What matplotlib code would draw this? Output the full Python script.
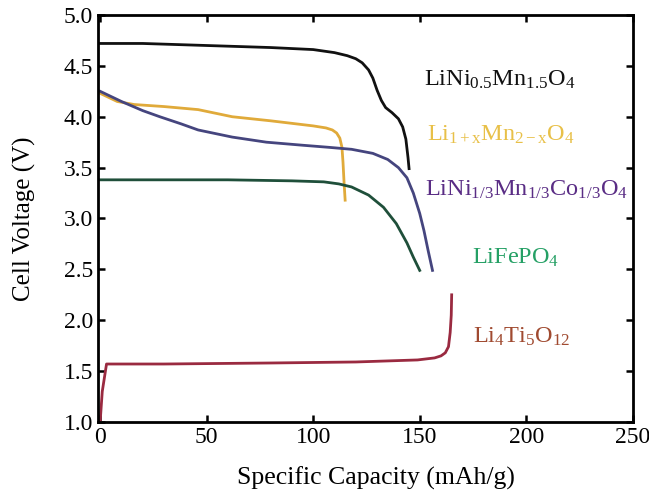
import matplotlib
matplotlib.use("Agg")
import matplotlib.pyplot as plt
import numpy as np

plt.rcParams['font.family'] = ['Liberation Serif', 'DejaVu Serif']
plt.rcParams['mathtext.fontset'] = 'custom'
plt.rcParams['mathtext.rm'] = 'Liberation Serif'
plt.rcParams['mathtext.it'] = 'Liberation Serif:italic'

# LiNi0.5Mn1.5O4
lnmo_cap = [0, 20, 50, 80, 100, 110, 116, 120, 123, 126, 128, 130, 132, 134, 137, 140, 142, 143.5, 144.5, 145]
lnmo_v = [4.72, 4.72, 4.70, 4.68, 4.66, 4.63, 4.60, 4.57, 4.53, 4.46, 4.38, 4.26, 4.16, 4.09, 4.04, 3.98, 3.90, 3.78, 3.60, 3.49]

# Li1+xMn2-xO4
lmo_cap = [0, 8, 16, 30, 46, 62, 80, 100, 106, 109, 111, 112.5, 113.5, 114, 114.5, 115]
lmo_v = [4.23, 4.15, 4.12, 4.10, 4.07, 4.00, 3.96, 3.91, 3.89, 3.87, 3.84, 3.79, 3.70, 3.55, 3.35, 3.18]

# LiNi1/3Mn1/3Co1/3O4
nmc_cap = [0, 10, 20, 28, 38, 46, 62, 78, 95, 107, 118, 128, 135, 140, 144, 147, 150, 152, 154, 156]
nmc_v = [4.25, 4.15, 4.06, 4.00, 3.93, 3.87, 3.80, 3.75, 3.72, 3.70, 3.68, 3.64, 3.58, 3.50, 3.40, 3.25, 3.05, 2.88, 2.68, 2.49]

# LiFePO4
lfp_cap = [0, 30, 60, 90, 105, 112, 118, 126, 133, 139, 144, 147, 150]
lfp_v = [3.38, 3.38, 3.38, 3.37, 3.36, 3.34, 3.31, 3.23, 3.11, 2.95, 2.76, 2.62, 2.49]

# Li4Ti5O12
lto_cap = [0, 1, 3, 30, 80, 120, 149, 157, 160, 162, 163.5, 164.3, 164.8, 165]
lto_v = [1.0, 1.3, 1.57, 1.57, 1.58, 1.59, 1.61, 1.63, 1.65, 1.68, 1.74, 1.88, 2.05, 2.25]

labels = [r'$\mathrm{LiNi_{0.5}Mn_{1.5}O_4}$',
          r'$\mathrm{Li_{1+x}Mn_{2-x}O_4}$',
          r'$\mathrm{LiNi_{1/3}Mn_{1/3}Co_{1/3}O_4}$',
          r'$\mathrm{LiFePO_4}$',
          r'$\mathrm{Li_4Ti_5O_{12}}$']
label_x = [152, 153.5, 152.5, 174.5, 175]
label_y = [4.36, 3.82, 3.28, 2.61, 1.84]

line_colors = ['#111111', '#e0aa3a', '#45457e', '#1f4f3a', '#9a2a40']
text_colors = ['#111111', '#e8c048', '#5a2d85', '#25a065', '#a04a30']

fig = plt.figure(figsize=(6.49, 4.91), dpi=100)
ax = fig.add_axes([0.151, 0.1405, 0.824, 0.829])

curves = [(lnmo_cap, lnmo_v), (lmo_cap, lmo_v), (nmc_cap, nmc_v), (lfp_cap, lfp_v), (lto_cap, lto_v)]
for (c, v), col in zip(curves, line_colors):
    ax.plot(c, v, color=col, lw=2)

for lab, x, y, col in zip(labels, label_x, label_y, text_colors):
    ax.text(x, y, lab, color=col, fontsize=17.5, va='center', ha='left')

ax.set_xlim(-1, 250)
ax.set_ylim(1.0, 5.0)
ax.set_xticks([0, 50, 100, 150, 200, 250])
ax.set_yticks(np.arange(1.0, 5.01, 0.5))
ax.yaxis.set_major_formatter(matplotlib.ticker.FormatStrFormatter('%.1f'))
ax.tick_params(direction='in', top=True, right=True, length=5, width=1.8, labelsize=17)
for s in ax.spines.values():
    s.set_linewidth(2)

ax.set_xlabel('Specific Capacity (mAh/g)', fontsize=18.5)
ax.xaxis.set_label_coords(0.52, -0.11)
ax.set_ylabel('Cell Voltage (V)', fontsize=18, labelpad=20)

fig.savefig('out.png', dpi=100)
